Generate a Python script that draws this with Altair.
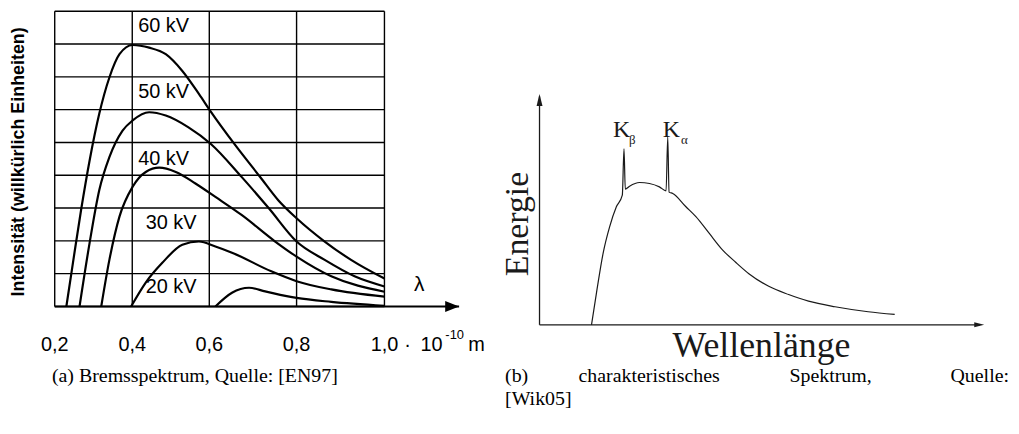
import altair as alt
import pandas as pd

# ---------------- panel (a): Bremsspektrum ----------------
wl_ticks = [0.2, 0.4, 0.6, 0.8, 1.0]           # wavelength grid / tick values (1e-10 m)
intensity_levels = [0, 1, 2, 3, 4, 5, 6, 7, 8, 9]
wl_axis_end = 1.17                              # end of the arrowed wavelength axis
kv_series = ["60 kV", "50 kV", "40 kV", "30 kV", "20 kV"]

wl_60 = [0.230, 0.247, 0.268, 0.290, 0.315, 0.341, 0.367, 0.401, 0.444, 0.487,
         0.530, 0.573, 0.603, 0.660, 0.717, 0.758, 0.800, 0.864, 0.924, 1.000]
in_60 = [0.00, 1.33, 2.94, 4.45, 5.88, 6.98, 7.69, 7.97, 7.89, 7.69,
         7.18, 6.48, 5.95, 4.91, 3.94, 3.24, 2.69, 1.98, 1.42, 0.85]

wl_50 = [0.264, 0.290, 0.315, 0.341, 0.375, 0.401, 0.444, 0.487, 0.546, 0.603,
         0.674, 0.736, 0.800, 0.864, 0.932, 1.000]
in_50 = [0.00, 1.94, 3.55, 4.55, 5.36, 5.67, 5.92, 5.82, 5.46, 4.96,
         3.95, 3.00, 1.98, 1.42, 0.92, 0.61]

wl_40 = [0.320, 0.341, 0.367, 0.401, 0.435, 0.470, 0.513, 0.564, 0.614, 0.674,
         0.751, 0.800, 0.879, 1.000]
in_40 = [0.00, 1.42, 2.74, 3.65, 4.10, 4.23, 4.10, 3.75, 3.34, 2.79,
         1.98, 1.52, 0.92, 0.45]

wl_30 = [0.397, 0.435, 0.478, 0.530, 0.573, 0.614, 0.652, 0.742, 0.800, 0.879, 1.000]
in_30 = [0.00, 0.73, 1.33, 1.88, 1.98, 1.83, 1.64, 1.07, 0.77, 0.52, 0.30]

wl_20 = [0.614, 0.652, 0.691, 0.728, 0.800, 0.879, 1.000]
in_20 = [0.00, 0.42, 0.57, 0.46, 0.26, 0.14, 0.02]

# anchor of each "xx kV" label (wavelength, intensity)
label_wl = [0.4155, 0.4155, 0.4155, 0.435, 0.435]
label_int = [8.56, 6.55, 4.48, 2.53, 0.59]

y_title_a = "Intensität (willkürlich Einheiten)"

# ---------------- panel (b): charakteristisches Spektrum ----------------
wl_b = [11.69, 12.81, 14.31, 15.78, 17.28, 18.62, 19.00, 19.29, 20.25, 22.49,
        24.73, 26.96, 28.46, 28.84, 29.13, 29.96, 32.93, 35.17, 38.14, 41.14,
        44.11, 47.08, 51.55, 56.02, 60.50, 66.46, 73.91, 79.88]
en_b = [0.00, 13.87, 31.09, 42.55, 51.16, 56.20, 76.30, 58.80, 60.08, 61.67,
        61.24, 59.78, 58.05, 81.31, 57.50, 56.93, 51.16, 46.86, 39.71, 32.52,
        27.13, 22.18, 16.71, 13.14, 10.25, 7.84, 5.68, 4.52]
axis_b_max = 100
line_main = ["K", "K"]
line_sub = ["β", "α"]
line_main_pos = [(16.54, 81.31), (27.72, 81.31)]
line_sub_pos = [(20.12, 78.17), (31.81, 78.17)]

caption_a = "(a) Bremsspektrum, Quelle: [EN97]"
caption_b_words = ["(b)", "charakteristisches", "Spektrum,", "Quelle:"]
caption_b_line2 = "[Wik05]"

SANS = "Liberation Sans"
SERIF = "Liberation Serif"

# ---------------- scales ----------------
xs_a = alt.Scale(domain=[0.2, 0.4, 0.6, 0.8, 1.0, wl_axis_end],
                 range=[47, 125, 202.5, 290.3, 378.7, 453.8], nice=False, zero=False)
ys_a = alt.Scale(domain=[0, 9], range=[299, 2], nice=False, zero=False)
xs_b = alt.Scale(domain=[0, 100], range=[534.7, 982], nice=False, zero=False)
ys_b = alt.Scale(domain=[0, 100], range=[317.5, 85.3], nice=False, zero=False)


def XA(f):
    return alt.X(f, scale=xs_a, axis=None)


def YA(f):
    return alt.Y(f, scale=ys_a, axis=None)


def XB(f):
    return alt.X(f, scale=xs_b, axis=None)


def YB(f):
    return alt.Y(f, scale=ys_b, axis=None)


# ---------------- panel (a) layers ----------------
vgrid_df = pd.DataFrame({"wl": wl_ticks, "lo": intensity_levels[0], "hi": intensity_levels[-1]})
vgrid = alt.Chart(vgrid_df).mark_rule(color="black", strokeWidth=1.4).encode(
    x=XA("wl:Q"), y=YA("lo:Q"), y2="hi:Q")

hgrid_df = pd.DataFrame({"lvl": intensity_levels, "a": wl_ticks[0], "b": wl_ticks[-1]})
hgrid = alt.Chart(hgrid_df).mark_rule(color="black", strokeWidth=1.4).encode(
    x=XA("a:Q"), x2="b:Q", y=YA("lvl:Q"))

axis_df = pd.DataFrame({"a": [wl_ticks[0]], "b": [wl_axis_end], "y": [0]})
axis_line = alt.Chart(axis_df).mark_rule(color="black", strokeWidth=2).encode(
    x=XA("a:Q"), x2="b:Q", y=YA("y:Q"))
arrow_a = alt.Chart(axis_df).mark_point(
    shape="M0,0L-2,-0.8L-2,0.8Z", size=196, filled=True, color="black", opacity=1,
    strokeWidth=0).encode(x=XA("b:Q"), y=YA("y:Q"))

# tick labels of the wavelength axis, placed through the x scale
tick_labels = alt.Chart(pd.DataFrame({"wl": wl_ticks})).transform_calculate(
    lbl="replace(format(datum.wl, '.1f'), '.', ',')"
).mark_text(align="center", baseline="alphabetic", font=SANS, fontSize=20,
            color="black").encode(x=XA("wl:Q"), y=alt.value(344), text="lbl:N")

y_title = alt.Chart(pd.DataFrame({"t": [y_title_a]})).mark_text(
    align="center", baseline="middle", angle=270, font=SANS, fontSize=18,
    fontWeight="bold", color="black").encode(
    x=alt.value(11), y=alt.value(153.5), text="t:N")

rows = []
for kv, wls, ins in zip(kv_series, [wl_60, wl_50, wl_40, wl_30, wl_20],
                        [in_60, in_50, in_40, in_30, in_20]):
    for w, i in zip(wls, ins):
        rows.append({"kv": kv, "wl": w, "int": i})
curves_df = pd.DataFrame(rows)
curves = alt.Chart(curves_df).mark_line(
    color="black", strokeWidth=2.2, interpolate="monotone").encode(
    x=XA("wl:Q"), y=YA("int:Q"), detail="kv:N")

labels_df = pd.DataFrame({"kv": kv_series, "wl": label_wl, "int": label_int})
kv_labels = alt.Chart(labels_df).mark_text(
    align="left", baseline="middle", font=SANS, fontSize=20, color="black").encode(
    x=XA("wl:Q"), y=YA("int:Q"), text="kv:N")

extra_df = pd.DataFrame({
    "t": ["λ", "·", "10", "-10", "m"],
    "wl": [1.079, 1.0527, 1.0821, 1.1387, 1.1907],
    "int": [0.667, -1.364, -1.364, -1.0, -1.364],
    "fs": [21, 20, 20, 13, 20],
    "al": ["center", "center", "left", "left", "left"],
})
extra_layers = []
for _, r in extra_df.iterrows():
    extra_layers.append(
        alt.Chart(pd.DataFrame([r])).mark_text(
            align=r["al"], baseline="middle" if r["t"] == "λ" else "alphabetic",
            font=SANS, fontSize=int(r["fs"]), color="black").encode(
            x=XA("wl:Q"), y=YA("int:Q"), text="t:N"))

panel_a = alt.layer(vgrid, hgrid, curves, axis_line, arrow_a, kv_labels,
                    tick_labels, y_title, *extra_layers)

# ---------------- panel (b) layers ----------------
ink = "#1a1a1a"
xaxis_b = alt.Chart(pd.DataFrame({"a": [0], "b": [axis_b_max - 1], "y": [0]})).mark_rule(
    color=ink, strokeWidth=1.3).encode(x=XB("a:Q"), x2="b:Q", y=YB("y:Q"))
yaxis_b = alt.Chart(pd.DataFrame({"x": [0], "lo": [0], "hi": [axis_b_max - 1]})).mark_rule(
    color=ink, strokeWidth=1.3).encode(x=XB("x:Q"), y=YB("lo:Q"), y2="hi:Q")
arrow_bx = alt.Chart(pd.DataFrame({"x": [axis_b_max], "y": [0]})).mark_point(
    shape="M0,0L-2,-0.5L-2,0.5Z", size=100, filled=True, color=ink, opacity=1,
    strokeWidth=0).encode(x=XB("x:Q"), y=YB("y:Q"))
arrow_by = alt.Chart(pd.DataFrame({"x": [0], "y": [axis_b_max]})).mark_point(
    shape="M0,0L-0.5,2L0.5,2Z", size=144, filled=True, color=ink, opacity=1,
    strokeWidth=0).encode(x=XB("x:Q"), y=YB("y:Q"))

spec_b = alt.Chart(pd.DataFrame({"wl": wl_b, "en": en_b})).mark_line(
    color=ink, strokeWidth=1.2, interpolate="monotone").encode(
    x=XB("wl:Q"), y=YB("en:Q"))

kmain = alt.Chart(pd.DataFrame({
    "t": line_main, "x": [p[0] for p in line_main_pos], "y": [p[1] for p in line_main_pos]
})).mark_text(align="left", baseline="alphabetic", font=SERIF, fontSize=24, color=ink).encode(
    x=XB("x:Q"), y=YB("y:Q"), text="t:N")
ksub = alt.Chart(pd.DataFrame({
    "t": line_sub, "x": [p[0] for p in line_sub_pos], "y": [p[1] for p in line_sub_pos]
})).mark_text(align="left", baseline="alphabetic", font=SERIF, fontSize=13, color=ink).encode(
    x=XB("x:Q"), y=YB("y:Q"), text="t:N")

energie = alt.Chart(pd.DataFrame({"t": ["Energie"], "x": [-4.74], "y": [43.7]})).mark_text(
    align="center", baseline="middle", angle=270, font=SERIF, fontSize=34, color=ink).encode(
    x=XB("x:Q"), y=YB("y:Q"), text="t:N")
wellen = alt.Chart(pd.DataFrame({"t": ["Wellenlänge"], "x": [49.92], "y": [-14.0]})).mark_text(
    align="center", baseline="alphabetic", font=SERIF, fontSize=36, color=ink).encode(
    x=XB("x:Q"), y=YB("y:Q"), text="t:N")

panel_b = alt.layer(xaxis_b, yaxis_b, arrow_bx, arrow_by, spec_b, kmain, ksub, energie, wellen)

# ---------------- captions ----------------
cap_items = [
    (caption_a, 188, 375, "center"),
    (caption_b_words[0], 500, 375, "left"),
    (caption_b_words[1], 645, 375, "center"),
    (caption_b_words[2], 827.5, 375, "center"),
    (caption_b_words[3], 1007, 375, "right"),
    (caption_b_line2, 500, 398, "left"),
]
cap_layers = []
for txt, cx, cy, al in cap_items:
    cap_layers.append(
        alt.Chart(pd.DataFrame({"t": [txt]})).mark_text(
            align=al, baseline="alphabetic", font=SERIF, fontSize=20, color="black").encode(
            x=alt.value(cx), y=alt.value(cy), text="t:N"))
captions = alt.layer(*cap_layers)

chart = alt.layer(panel_a, panel_b, captions).resolve_scale(
    x="independent", y="independent"
).properties(
    width=1009, height=299,
    padding={"left": 0, "top": 0, "right": 0, "bottom": 119},
    autosize=alt.AutoSizeParams(type="none"),
    background="white",
).configure_view(stroke=None)

chart.save("out.html", embed_options={"renderer": "svg", "actions": False})
